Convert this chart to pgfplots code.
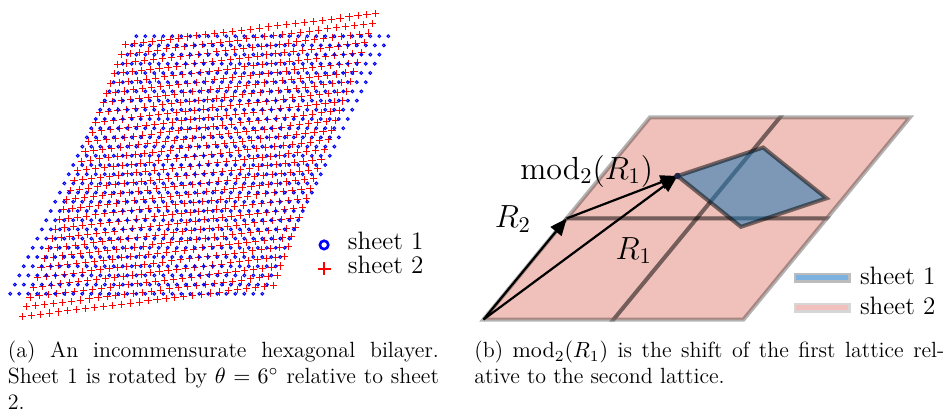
\RequirePackage{fix-cm}
\documentclass[border=0pt]{standalone}
\usepackage{pgfplots}
\pgfplotsset{compat=1.18}
\usepackage{pgfplotstable}
\usetikzlibrary{arrows.meta}

\definecolor{pinkfill}{RGB}{240,193,186}
\definecolor{cellblue}{RGB}{31,119,180}
\definecolor{dotnavy}{RGB}{30,40,70}
\definecolor{legblue}{RGB}{125,178,224}
\definecolor{legbluedge}{RGB}{188,188,188}
\definecolor{legpink}{RGB}{241,192,188}
\definecolor{legpinkedge}{RGB}{214,214,214}

% lattice indices (i,j), i,j = -14..14, shared by both sheets
\pgfplotstableread[row sep=\\]{
i j\\
-14 -14\\ -13 -14\\ -12 -14\\ -11 -14\\ -10 -14\\ -9 -14\\ -8 -14\\ -7 -14\\ -6 -14\\ -5 -14\\ -4 -14\\ -3 -14\\ -2 -14\\ -1 -14\\ 0 -14\\ 1 -14\\ 2 -14\\ 3 -14\\ 4 -14\\ 5 -14\\ 6 -14\\ 7 -14\\ 8 -14\\ 9 -14\\ 10 -14\\ 11 -14\\ 12 -14\\ 13 -14\\ 14 -14\\
-14 -13\\ -13 -13\\ -12 -13\\ -11 -13\\ -10 -13\\ -9 -13\\ -8 -13\\ -7 -13\\ -6 -13\\ -5 -13\\ -4 -13\\ -3 -13\\ -2 -13\\ -1 -13\\ 0 -13\\ 1 -13\\ 2 -13\\ 3 -13\\ 4 -13\\ 5 -13\\ 6 -13\\ 7 -13\\ 8 -13\\ 9 -13\\ 10 -13\\ 11 -13\\ 12 -13\\ 13 -13\\ 14 -13\\
-14 -12\\ -13 -12\\ -12 -12\\ -11 -12\\ -10 -12\\ -9 -12\\ -8 -12\\ -7 -12\\ -6 -12\\ -5 -12\\ -4 -12\\ -3 -12\\ -2 -12\\ -1 -12\\ 0 -12\\ 1 -12\\ 2 -12\\ 3 -12\\ 4 -12\\ 5 -12\\ 6 -12\\ 7 -12\\ 8 -12\\ 9 -12\\ 10 -12\\ 11 -12\\ 12 -12\\ 13 -12\\ 14 -12\\
-14 -11\\ -13 -11\\ -12 -11\\ -11 -11\\ -10 -11\\ -9 -11\\ -8 -11\\ -7 -11\\ -6 -11\\ -5 -11\\ -4 -11\\ -3 -11\\ -2 -11\\ -1 -11\\ 0 -11\\ 1 -11\\ 2 -11\\ 3 -11\\ 4 -11\\ 5 -11\\ 6 -11\\ 7 -11\\ 8 -11\\ 9 -11\\ 10 -11\\ 11 -11\\ 12 -11\\ 13 -11\\ 14 -11\\
-14 -10\\ -13 -10\\ -12 -10\\ -11 -10\\ -10 -10\\ -9 -10\\ -8 -10\\ -7 -10\\ -6 -10\\ -5 -10\\ -4 -10\\ -3 -10\\ -2 -10\\ -1 -10\\ 0 -10\\ 1 -10\\ 2 -10\\ 3 -10\\ 4 -10\\ 5 -10\\ 6 -10\\ 7 -10\\ 8 -10\\ 9 -10\\ 10 -10\\ 11 -10\\ 12 -10\\ 13 -10\\ 14 -10\\
-14 -9\\ -13 -9\\ -12 -9\\ -11 -9\\ -10 -9\\ -9 -9\\ -8 -9\\ -7 -9\\ -6 -9\\ -5 -9\\ -4 -9\\ -3 -9\\ -2 -9\\ -1 -9\\ 0 -9\\ 1 -9\\ 2 -9\\ 3 -9\\ 4 -9\\ 5 -9\\ 6 -9\\ 7 -9\\ 8 -9\\ 9 -9\\ 10 -9\\ 11 -9\\ 12 -9\\ 13 -9\\ 14 -9\\
-14 -8\\ -13 -8\\ -12 -8\\ -11 -8\\ -10 -8\\ -9 -8\\ -8 -8\\ -7 -8\\ -6 -8\\ -5 -8\\ -4 -8\\ -3 -8\\ -2 -8\\ -1 -8\\ 0 -8\\ 1 -8\\ 2 -8\\ 3 -8\\ 4 -8\\ 5 -8\\ 6 -8\\ 7 -8\\ 8 -8\\ 9 -8\\ 10 -8\\ 11 -8\\ 12 -8\\ 13 -8\\ 14 -8\\
-14 -7\\ -13 -7\\ -12 -7\\ -11 -7\\ -10 -7\\ -9 -7\\ -8 -7\\ -7 -7\\ -6 -7\\ -5 -7\\ -4 -7\\ -3 -7\\ -2 -7\\ -1 -7\\ 0 -7\\ 1 -7\\ 2 -7\\ 3 -7\\ 4 -7\\ 5 -7\\ 6 -7\\ 7 -7\\ 8 -7\\ 9 -7\\ 10 -7\\ 11 -7\\ 12 -7\\ 13 -7\\ 14 -7\\
-14 -6\\ -13 -6\\ -12 -6\\ -11 -6\\ -10 -6\\ -9 -6\\ -8 -6\\ -7 -6\\ -6 -6\\ -5 -6\\ -4 -6\\ -3 -6\\ -2 -6\\ -1 -6\\ 0 -6\\ 1 -6\\ 2 -6\\ 3 -6\\ 4 -6\\ 5 -6\\ 6 -6\\ 7 -6\\ 8 -6\\ 9 -6\\ 10 -6\\ 11 -6\\ 12 -6\\ 13 -6\\ 14 -6\\
-14 -5\\ -13 -5\\ -12 -5\\ -11 -5\\ -10 -5\\ -9 -5\\ -8 -5\\ -7 -5\\ -6 -5\\ -5 -5\\ -4 -5\\ -3 -5\\ -2 -5\\ -1 -5\\ 0 -5\\ 1 -5\\ 2 -5\\ 3 -5\\ 4 -5\\ 5 -5\\ 6 -5\\ 7 -5\\ 8 -5\\ 9 -5\\ 10 -5\\ 11 -5\\ 12 -5\\ 13 -5\\ 14 -5\\
-14 -4\\ -13 -4\\ -12 -4\\ -11 -4\\ -10 -4\\ -9 -4\\ -8 -4\\ -7 -4\\ -6 -4\\ -5 -4\\ -4 -4\\ -3 -4\\ -2 -4\\ -1 -4\\ 0 -4\\ 1 -4\\ 2 -4\\ 3 -4\\ 4 -4\\ 5 -4\\ 6 -4\\ 7 -4\\ 8 -4\\ 9 -4\\ 10 -4\\ 11 -4\\ 12 -4\\ 13 -4\\ 14 -4\\
-14 -3\\ -13 -3\\ -12 -3\\ -11 -3\\ -10 -3\\ -9 -3\\ -8 -3\\ -7 -3\\ -6 -3\\ -5 -3\\ -4 -3\\ -3 -3\\ -2 -3\\ -1 -3\\ 0 -3\\ 1 -3\\ 2 -3\\ 3 -3\\ 4 -3\\ 5 -3\\ 6 -3\\ 7 -3\\ 8 -3\\ 9 -3\\ 10 -3\\ 11 -3\\ 12 -3\\ 13 -3\\ 14 -3\\
-14 -2\\ -13 -2\\ -12 -2\\ -11 -2\\ -10 -2\\ -9 -2\\ -8 -2\\ -7 -2\\ -6 -2\\ -5 -2\\ -4 -2\\ -3 -2\\ -2 -2\\ -1 -2\\ 0 -2\\ 1 -2\\ 2 -2\\ 3 -2\\ 4 -2\\ 5 -2\\ 6 -2\\ 7 -2\\ 8 -2\\ 9 -2\\ 10 -2\\ 11 -2\\ 12 -2\\ 13 -2\\ 14 -2\\
-14 -1\\ -13 -1\\ -12 -1\\ -11 -1\\ -10 -1\\ -9 -1\\ -8 -1\\ -7 -1\\ -6 -1\\ -5 -1\\ -4 -1\\ -3 -1\\ -2 -1\\ -1 -1\\ 0 -1\\ 1 -1\\ 2 -1\\ 3 -1\\ 4 -1\\ 5 -1\\ 6 -1\\ 7 -1\\ 8 -1\\ 9 -1\\ 10 -1\\ 11 -1\\ 12 -1\\ 13 -1\\ 14 -1\\
-14 0\\ -13 0\\ -12 0\\ -11 0\\ -10 0\\ -9 0\\ -8 0\\ -7 0\\ -6 0\\ -5 0\\ -4 0\\ -3 0\\ -2 0\\ -1 0\\ 0 0\\ 1 0\\ 2 0\\ 3 0\\ 4 0\\ 5 0\\ 6 0\\ 7 0\\ 8 0\\ 9 0\\ 10 0\\ 11 0\\ 12 0\\ 13 0\\ 14 0\\
-14 1\\ -13 1\\ -12 1\\ -11 1\\ -10 1\\ -9 1\\ -8 1\\ -7 1\\ -6 1\\ -5 1\\ -4 1\\ -3 1\\ -2 1\\ -1 1\\ 0 1\\ 1 1\\ 2 1\\ 3 1\\ 4 1\\ 5 1\\ 6 1\\ 7 1\\ 8 1\\ 9 1\\ 10 1\\ 11 1\\ 12 1\\ 13 1\\ 14 1\\
-14 2\\ -13 2\\ -12 2\\ -11 2\\ -10 2\\ -9 2\\ -8 2\\ -7 2\\ -6 2\\ -5 2\\ -4 2\\ -3 2\\ -2 2\\ -1 2\\ 0 2\\ 1 2\\ 2 2\\ 3 2\\ 4 2\\ 5 2\\ 6 2\\ 7 2\\ 8 2\\ 9 2\\ 10 2\\ 11 2\\ 12 2\\ 13 2\\ 14 2\\
-14 3\\ -13 3\\ -12 3\\ -11 3\\ -10 3\\ -9 3\\ -8 3\\ -7 3\\ -6 3\\ -5 3\\ -4 3\\ -3 3\\ -2 3\\ -1 3\\ 0 3\\ 1 3\\ 2 3\\ 3 3\\ 4 3\\ 5 3\\ 6 3\\ 7 3\\ 8 3\\ 9 3\\ 10 3\\ 11 3\\ 12 3\\ 13 3\\ 14 3\\
-14 4\\ -13 4\\ -12 4\\ -11 4\\ -10 4\\ -9 4\\ -8 4\\ -7 4\\ -6 4\\ -5 4\\ -4 4\\ -3 4\\ -2 4\\ -1 4\\ 0 4\\ 1 4\\ 2 4\\ 3 4\\ 4 4\\ 5 4\\ 6 4\\ 7 4\\ 8 4\\ 9 4\\ 10 4\\ 11 4\\ 12 4\\ 13 4\\ 14 4\\
-14 5\\ -13 5\\ -12 5\\ -11 5\\ -10 5\\ -9 5\\ -8 5\\ -7 5\\ -6 5\\ -5 5\\ -4 5\\ -3 5\\ -2 5\\ -1 5\\ 0 5\\ 1 5\\ 2 5\\ 3 5\\ 4 5\\ 5 5\\ 6 5\\ 7 5\\ 8 5\\ 9 5\\ 10 5\\ 11 5\\ 12 5\\ 13 5\\ 14 5\\
-14 6\\ -13 6\\ -12 6\\ -11 6\\ -10 6\\ -9 6\\ -8 6\\ -7 6\\ -6 6\\ -5 6\\ -4 6\\ -3 6\\ -2 6\\ -1 6\\ 0 6\\ 1 6\\ 2 6\\ 3 6\\ 4 6\\ 5 6\\ 6 6\\ 7 6\\ 8 6\\ 9 6\\ 10 6\\ 11 6\\ 12 6\\ 13 6\\ 14 6\\
-14 7\\ -13 7\\ -12 7\\ -11 7\\ -10 7\\ -9 7\\ -8 7\\ -7 7\\ -6 7\\ -5 7\\ -4 7\\ -3 7\\ -2 7\\ -1 7\\ 0 7\\ 1 7\\ 2 7\\ 3 7\\ 4 7\\ 5 7\\ 6 7\\ 7 7\\ 8 7\\ 9 7\\ 10 7\\ 11 7\\ 12 7\\ 13 7\\ 14 7\\
-14 8\\ -13 8\\ -12 8\\ -11 8\\ -10 8\\ -9 8\\ -8 8\\ -7 8\\ -6 8\\ -5 8\\ -4 8\\ -3 8\\ -2 8\\ -1 8\\ 0 8\\ 1 8\\ 2 8\\ 3 8\\ 4 8\\ 5 8\\ 6 8\\ 7 8\\ 8 8\\ 9 8\\ 10 8\\ 11 8\\ 12 8\\ 13 8\\ 14 8\\
-14 9\\ -13 9\\ -12 9\\ -11 9\\ -10 9\\ -9 9\\ -8 9\\ -7 9\\ -6 9\\ -5 9\\ -4 9\\ -3 9\\ -2 9\\ -1 9\\ 0 9\\ 1 9\\ 2 9\\ 3 9\\ 4 9\\ 5 9\\ 6 9\\ 7 9\\ 8 9\\ 9 9\\ 10 9\\ 11 9\\ 12 9\\ 13 9\\ 14 9\\
-14 10\\ -13 10\\ -12 10\\ -11 10\\ -10 10\\ -9 10\\ -8 10\\ -7 10\\ -6 10\\ -5 10\\ -4 10\\ -3 10\\ -2 10\\ -1 10\\ 0 10\\ 1 10\\ 2 10\\ 3 10\\ 4 10\\ 5 10\\ 6 10\\ 7 10\\ 8 10\\ 9 10\\ 10 10\\ 11 10\\ 12 10\\ 13 10\\ 14 10\\
-14 11\\ -13 11\\ -12 11\\ -11 11\\ -10 11\\ -9 11\\ -8 11\\ -7 11\\ -6 11\\ -5 11\\ -4 11\\ -3 11\\ -2 11\\ -1 11\\ 0 11\\ 1 11\\ 2 11\\ 3 11\\ 4 11\\ 5 11\\ 6 11\\ 7 11\\ 8 11\\ 9 11\\ 10 11\\ 11 11\\ 12 11\\ 13 11\\ 14 11\\
-14 12\\ -13 12\\ -12 12\\ -11 12\\ -10 12\\ -9 12\\ -8 12\\ -7 12\\ -6 12\\ -5 12\\ -4 12\\ -3 12\\ -2 12\\ -1 12\\ 0 12\\ 1 12\\ 2 12\\ 3 12\\ 4 12\\ 5 12\\ 6 12\\ 7 12\\ 8 12\\ 9 12\\ 10 12\\ 11 12\\ 12 12\\ 13 12\\ 14 12\\
-14 13\\ -13 13\\ -12 13\\ -11 13\\ -10 13\\ -9 13\\ -8 13\\ -7 13\\ -6 13\\ -5 13\\ -4 13\\ -3 13\\ -2 13\\ -1 13\\ 0 13\\ 1 13\\ 2 13\\ 3 13\\ 4 13\\ 5 13\\ 6 13\\ 7 13\\ 8 13\\ 9 13\\ 10 13\\ 11 13\\ 12 13\\ 13 13\\ 14 13\\
-14 14\\ -13 14\\ -12 14\\ -11 14\\ -10 14\\ -9 14\\ -8 14\\ -7 14\\ -6 14\\ -5 14\\ -4 14\\ -3 14\\ -2 14\\ -1 14\\ 0 14\\ 1 14\\ 2 14\\ 3 14\\ 4 14\\ 5 14\\ 6 14\\ 7 14\\ 8 14\\ 9 14\\ 10 14\\ 11 14\\ 12 14\\ 13 14\\ 14 14\\
}\latticeidx

\begin{document}
\begin{tikzpicture}
\useasboundingbox (0pt,0pt) rectangle (473pt,-206pt);

% ---- (a) sheet 2: hexagonal lattice rotated by 6 degrees
\begin{axis}[at={(99.65pt,-82.5pt)}, anchor=origin,
  x={(4.4755pt,0.555pt)}, y={(1.830pt,4.8515pt)},
  xmin=-15, xmax=15, ymin=-15, ymax=15, hide axis, clip=false]
\addplot[only marks, mark=+, red, mark size=1.8pt, line width=0.45pt]
  table[x=i, y=j] {\latticeidx};
\end{axis}

% ---- (a) sheet 1: hexagonal lattice
\begin{axis}[at={(99.65pt,-82.5pt)}, anchor=origin,
  x={(4.5pt,0pt)}, y={(2.25pt,4.6pt)},
  xmin=-15, xmax=15, ymin=-15, ymax=15, hide axis, clip=false]
\addplot[only marks, mark=o, blue, mark size=0.7pt, line width=0.5pt]
  table[x=i, y=j] {\latticeidx};
\end{axis}

% ---- (a) legend
\begin{axis}[at={(0pt,-206pt)}, anchor=south west,
  x={(0.5pt,0pt)}, y={(0pt,0.5pt)},
  xmin=0, xmax=946, ymin=0, ymax=412, hide axis, clip=false,
  legend cell align=left,
  legend image code/.code={\draw[#1] plot coordinates {(0pt,0pt)};},
  legend style={draw=none, fill=none, inner sep=0pt, outer sep=0pt,
    at={(0.33562,0.42840)}, anchor=north west,
    column sep=8.6pt, row sep=2.45pt,
    font=\fontsize{12.6}{15}\selectfont,
    nodes={inner sep=0pt, text height=0.694em, text depth=0.25em}}]
\addlegendimage{only marks, mark=o, blue, mark size=2.1pt, line width=1.3pt}
\addlegendentry{sheet 1}
\addlegendimage{only marks, mark=+, red, mark size=3.3pt, line width=1pt}
\addlegendentry{sheet 2}
\end{axis}

% ---- (b) unit cells and shift vectors
\begin{axis}[at={(0pt,-206pt)}, anchor=south west,
  x={(0.5pt,0pt)}, y={(0pt,0.5pt)},
  xmin=0, xmax=946, ymin=0, ymax=412, hide axis, clip=false,
  legend cell align=left,
  legend image code/.code={\draw[#1] (-13.625pt,-1.875pt) rectangle (13.625pt,1.875pt);},
  legend style={draw=none, fill=none, inner sep=0pt, outer sep=0pt,
    at={(0.83879,0.3432)}, anchor=north west,
    column sep=4.75pt, row sep=8.26pt,
    font=\fontsize{12.6}{15}\selectfont,
    nodes={inner sep=0pt, text height=0.694em, text depth=0pt}}]
% sheet 2: 2x2 block of cells
\addplot[forget plot, fill=pinkfill, draw=none]
  coordinates {(483.5,92.5) (743.5,92.5) (910,294.7) (650,294.7)} -- cycle;
\addplot[forget plot, draw=black, draw opacity=0.3, line width=2pt]
  coordinates {(483.5,92.5) (613.5,92.5) (696.75,193.6) (566.75,193.6)} -- cycle;
\addplot[forget plot, draw=black, draw opacity=0.3, line width=2pt]
  coordinates {(613.5,92.5) (743.5,92.5) (826.75,193.6) (696.75,193.6)} -- cycle;
\addplot[forget plot, draw=black, draw opacity=0.3, line width=2pt]
  coordinates {(566.75,193.6) (696.75,193.6) (780,294.7) (650,294.7)} -- cycle;
\addplot[forget plot, draw=black, draw opacity=0.3, line width=2pt]
  coordinates {(696.75,193.6) (826.75,193.6) (910,294.7) (780,294.7)} -- cycle;
% sheet 1: shifted cell
\addplot[forget plot, fill=cellblue, fill opacity=0.55, draw=black, draw opacity=0.5, line width=2pt]
  coordinates {(677.5,236) (763.1,264.5) (826.5,213.7) (740.9,185.2)} -- cycle;
% vectors R_2, R_1 and R_1 - R_2
\addplot[forget plot, black, line width=1.1pt, -{Triangle[length=8.5pt,width=7pt]}]
  coordinates {(483.5,92.5) (566.75,193.6)};
\addplot[forget plot, black, line width=1.1pt, -{Triangle[length=8.5pt,width=7pt]}]
  coordinates {(483.5,92.5) (677.5,236)};
\addplot[forget plot, black, line width=1.1pt, -{Triangle[length=8.5pt,width=7pt]}]
  coordinates {(566.75,193.6) (677.5,236)};
\addplot[forget plot, only marks, mark=*, mark size=1.4pt, color=dotnavy]
  coordinates {(677.5,236)};
\node[anchor=base, font=\fontsize{16}{19}\selectfont] at (axis cs:586.7,233) {$\mathrm{mod}_2(R_1)$};
\node[anchor=base, font=\fontsize{16}{19}\selectfont] at (axis cs:512.8,184.7) {$R_2$};
\node[anchor=base, font=\fontsize{16}{19}\selectfont] at (axis cs:633.7,153) {$R_1$};
\addlegendimage{fill=legblue, draw=legbluedge, line width=1.25pt}
\addlegendentry{sheet 1}
\addlegendimage{fill=legpink, draw=legpinkedge, line width=1.25pt}
\addlegendentry{sheet 2}
\end{axis}

% ---- captions
\begin{scope}[every node/.style={anchor=base west, inner sep=0pt, font=\fontsize{11}{13}\selectfont}]
\node at (3.75pt,-178.85pt) {\makebox[215.5pt][s]{(a) An incommensurate hexagonal bilayer.}};
\node at (3.75pt,-191.75pt) {\makebox[215.5pt][s]{Sheet 1 is rotated by $\theta = 6^\circ$ relative to sheet}};
\node at (3.75pt,-204.65pt) {2.};
\node at (237pt,-178.85pt) {\makebox[235pt][s]{(b) $\mathrm{mod}_2(R_1)$ is the shift of the first lattice rel-}};
\node at (237pt,-191.75pt) {ative to the second lattice.};
\end{scope}
\end{tikzpicture}
\end{document}
